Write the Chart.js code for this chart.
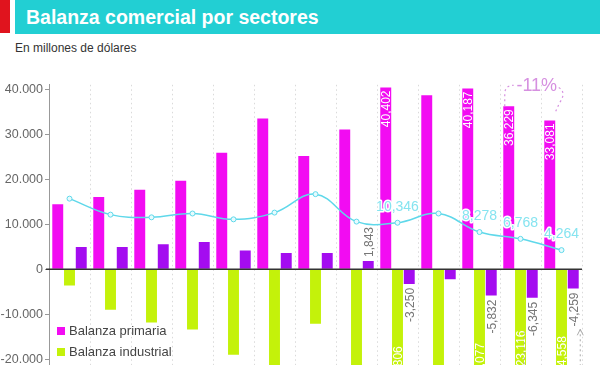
<!DOCTYPE html>
<html>
<head>
<meta charset="utf-8">
<script src="https://cdn.jsdelivr.net/npm/chart.js@4.4.0/dist/chart.umd.min.js"></script>
<style>
  html, body { margin: 0; padding: 0; background: #fff; }
  body { width: 600px; height: 365px; overflow: hidden; position: relative;
         font-family: Helvetica, Arial, "Liberation Sans", sans-serif; }
  #redbox { position: absolute; left: 0; top: 0; width: 10px; height: 33px; background: #e0141e; }
  #titlebar { position: absolute; left: 15px; top: 0; width: 585px; height: 34px; background: #22cfd3; }
  #titlebar h1 { margin: 0; padding-left: 11px; line-height: 34px; font-size: 19.5px; font-weight: bold; color: #fff; }
  #subtitle { position: absolute; left: 15px; top: 41px; font-size: 12px; color: #333; }
  #wrap { position: absolute; left: 0; top: 60px; width: 600px; height: 420px; }
  #legend { position: absolute; left: 57px; top: 322px; font-size: 13px; color: #444; }
  .item { height: 21px; line-height: 18px; white-space: nowrap; }
  .item span.sw { display: inline-block; width: 8px; height: 8px; margin-right: 4px; vertical-align: 0px; }
</style>
</head>
<body>
<div id="redbox"></div>
<div id="titlebar"><h1>Balanza comercial por sectores</h1></div>
<div id="subtitle">En millones de dólares</div>
<div id="wrap"><canvas id="myChart"></canvas></div>
<div id="legend"></div>
<script>
const years = ['2003','2004','2005','2006','2007','2008','2009','2010','2011','2012','2013','2014','2015'];
const primaria   = [14450, 16070, 17700, 19700, 25900, 33500, 25200, 31050, 40402, 38700, 40187, 36229, 33081];
const industrial = [-3600, -9000, -11800, -13400, -19000, -24500, -12100, -22300, -26806, -24100, -26077, -23116, -24558];
const energetica = [4950, 4950, 5550, 6070, 4200, 3600, 3600, 1843, -3250, -2200, -5832, -6345, -4259];
const total      = [15700, 12150, 11550, 12400, 11100, 12600, 16700, 10600, 10346, 12400, 8278, 6768, 4264];
const yTicks = [-30000, -20000, -10000, 0, 10000, 20000, 30000, 40000];
// which bars / points get a value label
const labeled = [8, 10, 11, 12];
const labeledEnergy = [7, 8, 10, 11, 12];

const fmtComma = v => String(Math.abs(v)).replace(/\B(?=(\d{3})+(?!\d))/g, ',').replace(/^/, v < 0 ? '-' : '');
const fmtDot = v => String(Math.abs(v)).replace(/\B(?=(\d{3})+(?!\d))/g, '.').replace(/^/, v < 0 ? '-' : '');

const fontFam = 'Helvetica, Arial, "Liberation Sans", sans-serif';

const valueLabels = {
  id: 'valueLabels',
  afterDatasetsDraw(chart) {
    const ctx = chart.ctx;
    const area = chart.chartArea;
    const y0 = chart.scales.y.getPixelForValue(0);
    // zero line
    ctx.save();
    ctx.strokeStyle = '#333';
    ctx.lineWidth = 1.5;
    ctx.beginPath();
    ctx.moveTo(area.left - 3, y0);
    ctx.lineTo(area.right, y0);
    ctx.stroke();
    ctx.restore();

    chart.data.datasets.forEach((ds, di) => {
      const meta = chart.getDatasetMeta(di);
      if (!ds.labelAt) return;
      ds.labelAt.forEach(i => {
        const el = meta.data[i];
        const v = ds.data[i];
        const txt = fmtComma(v);
        ctx.save();
        if (ds.type === 'line') {
          ctx.font = '14px ' + fontFam;
          ctx.textAlign = 'center';
          ctx.textBaseline = 'middle';
          ctx.lineWidth = 3;
          ctx.strokeStyle = '#fff';
          ctx.lineJoin = 'round';
          ctx.strokeText(txt, el.x, el.y - 16);
          ctx.fillStyle = '#86e4f0';
          ctx.fillText(txt, el.x, el.y - 16);
        } else {
          ctx.font = '12px ' + fontFam;
          ctx.textBaseline = 'middle';
          let ay, align;
          if (ds.labelInside) {
            ctx.fillStyle = '#fff';
            if (v >= 0) { ay = el.y + 3; align = 'right'; } else { ay = el.y - 3; align = 'left'; }
          } else {
            ctx.fillStyle = '#777';
            if (v >= 0) { ay = el.y - 4; align = 'left'; } else { ay = el.y + 4; align = 'right'; }
          }
          ctx.translate(el.x, ay);
          ctx.rotate(-Math.PI / 2);
          ctx.textAlign = align;
          ctx.fillText(txt, 0, 1);
        }
        ctx.restore();
      });
    });

    // -11% note between the last two primary bars
    const pm = chart.getDatasetMeta(1).data;
    const a = pm[11], b = pm[12];
    ctx.save();
    ctx.strokeStyle = '#d690e0';
    ctx.lineWidth = 1.2;
    ctx.setLineDash([2, 3]);
    ctx.beginPath();
    ctx.moveTo(a.x - 4, a.y);
    ctx.lineTo(a.x - 4, a.y - 12);
    ctx.quadraticCurveTo(a.x - 4, a.y - 21, a.x + 5, a.y - 21);
    ctx.moveTo(b.x + 9, b.y - 33);
    ctx.quadraticCurveTo(b.x + 17, b.y - 28, b.x + 10, b.y - 18);
    ctx.lineTo(b.x + 5, b.y - 7);
    ctx.stroke();
    ctx.setLineDash([]);
    ctx.fillStyle = '#d690e0';
    ctx.font = '18px ' + fontFam;
    ctx.textAlign = 'center';
    ctx.textBaseline = 'middle';
    ctx.fillText('-11%', a.x + 28, a.y - 20);

    // grey dotted note below the last energy bars
    const em = chart.getDatasetMeta(3).data;
    ctx.strokeStyle = '#aaa';
    ctx.lineWidth = 1;
    ctx.setLineDash([2, 3]);
    ctx.beginPath();
    ctx.moveTo(em[11].x - 8, y0 + 63);
    ctx.lineTo(em[11].x - 8, area.bottom);
    ctx.moveTo(em[12].x + 7, y0 + 60);
    ctx.lineTo(em[12].x + 7, area.bottom);
    ctx.stroke();
    ctx.setLineDash([]);
    ctx.beginPath();
    ctx.moveTo(em[12].x + 4, y0 + 66);
    ctx.lineTo(em[12].x + 7, y0 + 60);
    ctx.lineTo(em[12].x + 10, y0 + 66);
    ctx.stroke();
    ctx.restore();
  }
};

const myChart = document.getElementById('myChart');
const chart = new Chart(myChart, {
  type: 'bar',
  data: {
    labels: years,
    datasets: [
      {
        type: 'line',
        label: 'Balanza total',
        data: total,
        borderColor: '#5fd8ea',
        borderWidth: 1.5,
        pointRadius: 2.5,
        pointBorderWidth: 1,
        pointBackgroundColor: '#e6fbfe',
        pointBorderColor: '#5fd8ea',
        tension: 0.4,
        order: 0,
        labelAt: labeled,
      },
      {
        label: 'Balanza primaria',
        data: primaria,
        backgroundColor: '#f20cf2',
        order: 1,
        labelAt: labeled,
        labelInside: true,
      },
      {
        label: 'Balanza industrial',
        data: industrial,
        backgroundColor: '#c4f20a',
        order: 1,
        labelAt: labeled,
        labelInside: true,
      },
      {
        label: 'Balanza energética',
        data: energetica,
        backgroundColor: '#a40cf0',
        order: 1,
        labelAt: labeledEnergy,
      },
    ],
  },
  options: {
    responsive: true,
    maintainAspectRatio: false,
    animation: false,
    categoryPercentage: 0.86,
    barPercentage: 0.93,
    layout: {
      padding: { top: 24.8, right: 18, left: 0, bottom: 75.7 },
    },
    plugins: {
      legend: { display: false },
      tooltip: { enabled: false },
    },
    scales: {
      x: {
        ticks: { display: false },
        grid: {
          offset: true,
          drawTicks: false,
          color: '#dadada',
          lineWidth: 1,
        },
        border: { display: false, dash: [1.5, 3] },
      },
      y: {
        min: -30000,
        max: 41000,
        afterBuildTicks: scale => { scale.ticks = yTicks.map(v => ({ value: v })); },
        afterFit: scale => { scale.width = 49; },
        border: { color: '#999', width: 1 },
        grid: { drawOnChartArea: false, tickLength: 4, color: '#999' },
        ticks: {
          padding: 2,
          color: '#666',
          font: { size: 12.5, family: fontFam },
          callback: v => fmtDot(v),
        },
      },
    },
  },
  plugins: [valueLabels],
});

// legend as html text
const legend = document.getElementById('legend');
chart.data.datasets.slice(1).concat(chart.data.datasets.slice(0, 1)).forEach(ds => {
  const row = document.createElement('div');
  row.className = 'item';
  const sw = document.createElement('span');
  sw.className = 'sw';
  sw.style.background = ds.type === 'line' ? ds.borderColor : ds.backgroundColor;
  row.appendChild(sw);
  row.appendChild(document.createTextNode(ds.label));
  legend.appendChild(row);
});
</script>
</body>
</html>
